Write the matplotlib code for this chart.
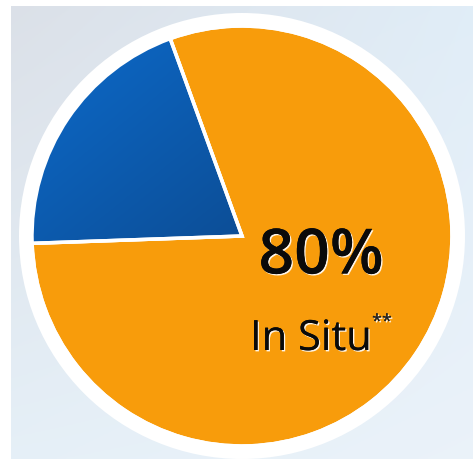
import numpy as np
import matplotlib
matplotlib.use("Agg")
import matplotlib.pyplot as plt
from matplotlib.patches import Circle
import matplotlib.patheffects as pe

# Data
labels = ["Other", "In Situ"]
values = [20, 80]
main_pct = "80%"
main_label = "In Situ"
footnote = "**"
colors = ["#0c62bd", "#f89c0b"]

W, H = 473, 461
fig = plt.figure(figsize=(W / 100, H / 100), dpi=100)
fig.patch.set_facecolor("white")
ax = fig.add_axes([0, 0, 1, 1])

cx, cy = 242, H - 236
R = 210

# background panel with gentle gradient
gx = np.linspace(0, 1, 200)
GX, GY = np.meshgrid(gx, gx)
c_tl = np.array([0.86, 0.88, 0.91])
c_tr = np.array([0.88, 0.93, 0.97])
c_bl = np.array([0.90, 0.94, 0.97])
c_br = np.array([0.92, 0.95, 0.98])
img = (c_tl[None, None, :] * ((1 - GX) * (1 - GY))[..., None]
       + c_tr[None, None, :] * (GX * (1 - GY))[..., None]
       + c_bl[None, None, :] * ((1 - GX) * GY)[..., None]
       + c_br[None, None, :] * (GX * GY)[..., None])
ax.imshow(img, extent=[11, W, 2, H - 7], origin="upper", zorder=0, aspect="auto")

# white ring behind the pie
ax.add_patch(Circle((cx, cy), 223, facecolor="white", edgecolor="none", zorder=1))

wedges, _ = ax.pie(values, colors=colors, startangle=110, counterclock=True,
                   center=(cx, cy), radius=R,
                   wedgeprops=dict(edgecolor="white", linewidth=2.5))
for w in wedges:
    w.set_zorder(2)

# gradient on blue wedge: lighter at top-left, darker toward the centre
bx = np.linspace(0, 1, 200)
BX, BY = np.meshgrid(bx, bx)
t = np.clip((0.8 * BX + 1.0 * BY) / 1.8, 0, 1)
light = np.array([0.05, 0.42, 0.80])
dark = np.array([0.05, 0.30, 0.58])
bimg = light[None, None, :] * (1 - t)[..., None] + dark[None, None, :] * t[..., None]
im = ax.imshow(bimg, extent=[cx - R, cx + 10, cy - 10, cy + R], origin="upper",
               zorder=2.5, aspect="auto")
im.set_clip_path(wedges[0])
# separator lines on top
ax.pie(values, colors=["none", "none"], startangle=110, counterclock=True,
       center=(cx, cy), radius=R,
       wedgeprops=dict(edgecolor="white", linewidth=2.5, zorder=3, fill=False))

fx = [pe.withSimplePatchShadow(offset=(1, -1), shadow_rgbFace="white", alpha=0.9), pe.Normal()]
ax.text(321, H - 257, main_pct, fontsize=45, fontweight="semibold", family="Open Sans",
        ha="center", va="center", color="#0a0a0a", zorder=5, path_effects=fx)
ax.text(311, H - 339, main_label, fontsize=30, family="Open Sans",
        ha="center", va="center", color="#0a0a0a", zorder=5, path_effects=fx)
ax.text(372, H - 322, footnote, fontsize=13, family="Open Sans",
        ha="left", va="center", color="#222222", zorder=5, path_effects=fx)

ax.set_xlim(0, W)
ax.set_ylim(0, H)
ax.set_aspect("auto")
ax.axis("off")
fig.savefig("out.png", dpi=100, facecolor="white")
